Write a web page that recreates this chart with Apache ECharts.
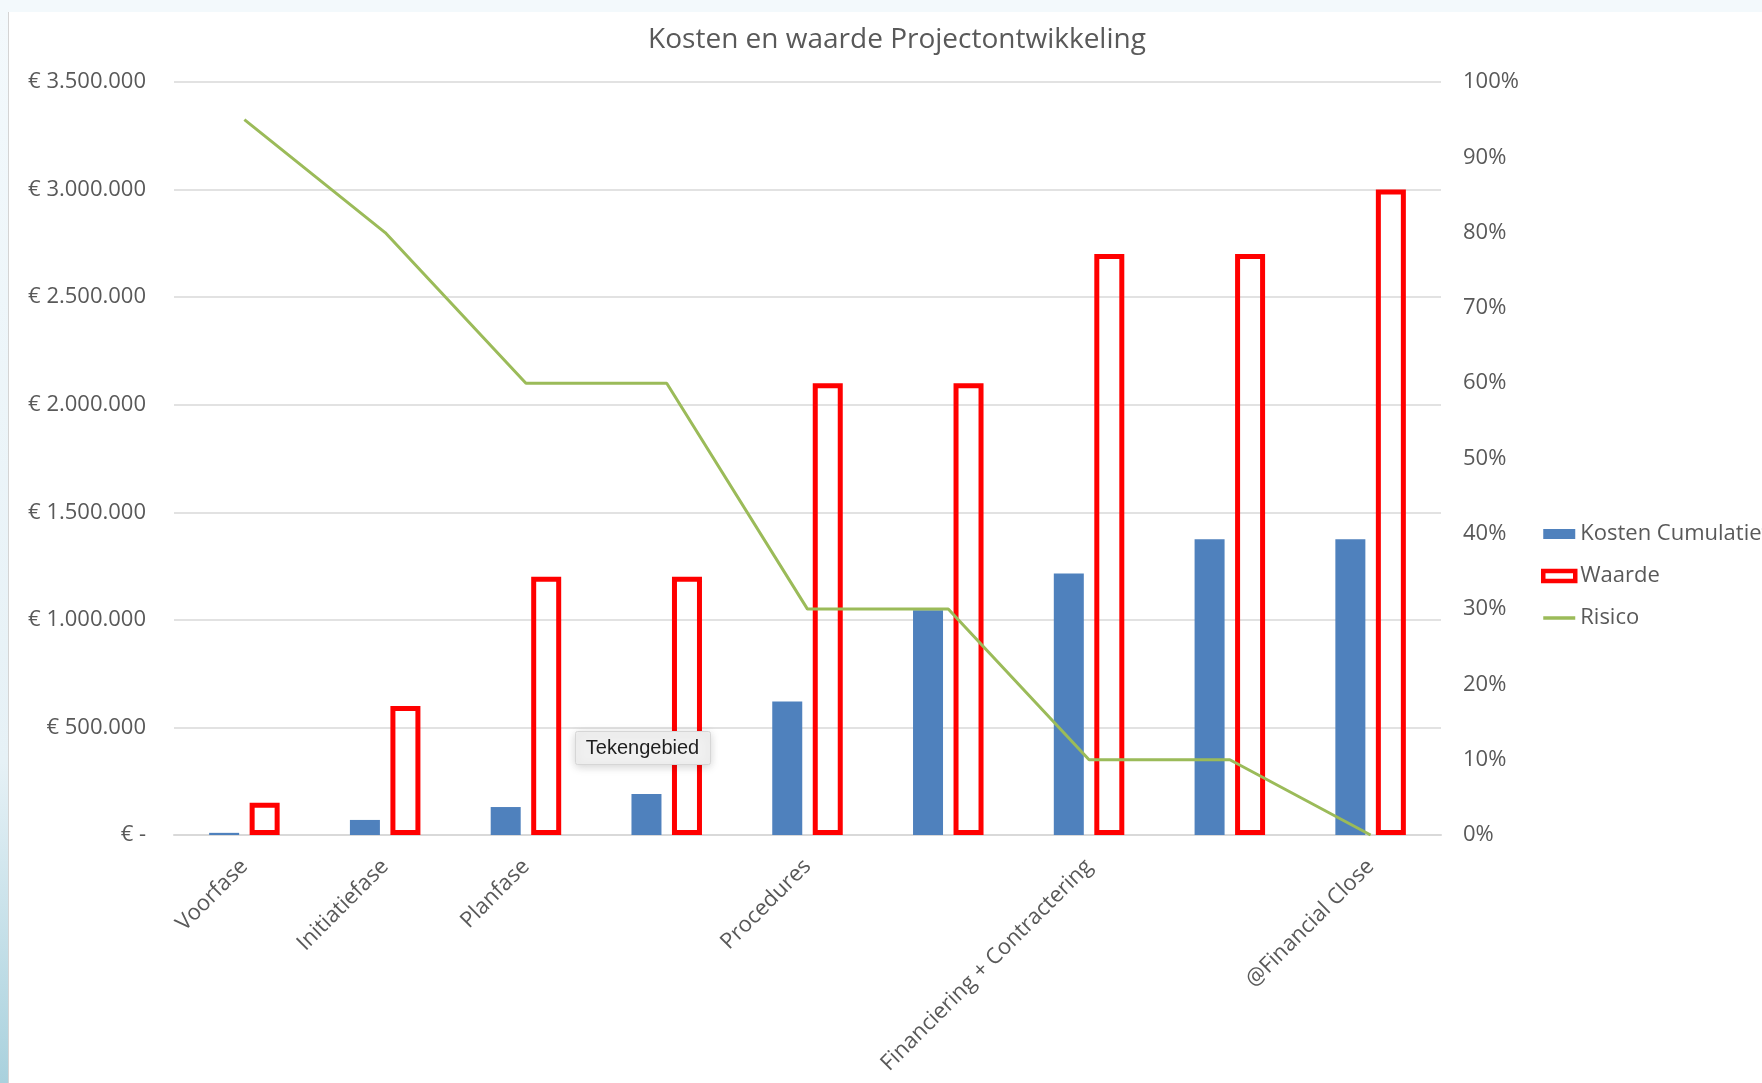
<!DOCTYPE html>
<html>
<head>
<meta charset="utf-8">
<title>Kosten en waarde Projectontwikkeling</title>
<script src="https://cdn.jsdelivr.net/npm/echarts@6/dist/echarts.min.js"></script>
<style>
    html, body { margin: 0; padding: 0; background: #ffffff; overflow: hidden; }
    #topStrip { position: absolute; left: 0; top: 0; width: 1762px; height: 12px; background: #f3f9fc; }
    #leftStrip { position: absolute; left: 0; top: 12px; width: 8px; height: 1071px;
        background: linear-gradient(to bottom, #f3f9fc 0%, #e6f1f6 70%, #a9d1dd 100%);
        border-right: 1px solid #d4d4d4; }
    #chart { position: absolute; left: 0; top: 0; width: 1762px; height: 1083px; }
</style>
</head>
<body>
<div id="topStrip"></div>
<div id="leftStrip"></div>
<div id="chart"></div>
<script>
// data
const categories = ['Voorfase', 'Initiatiefase', 'Planfase', '', 'Procedures', '', 'Financiering + Contractering', '', '@Financial Close'];
const kostenCumulatief = [10000, 70000, 130000, 190000, 620000, 1045000, 1215000, 1375000, 1375000];
const waarde = [150000, 600000, 1200000, 1200000, 2100000, 2100000, 2700000, 2700000, 3000000];
const risico = [0.95, 0.8, 0.6, 0.6, 0.3, 0.3, 0.1, 0.1, 0];

const labelColor = '#595959';
const fontFamily = '"Open Sans", "Noto Sans", sans-serif';

// € 3.500.000 style, zero as "€ -"
function formatEuro(value) {
    if (value === 0) return '€ -';
    return '€ ' + String(Math.round(value)).replace(/\B(?=(\d{3})+(?!\d))/g, '.');
}

function renderChart(containerId) {
    if (typeof echarts === 'undefined') {
        document.getElementById(containerId).innerHTML = '<div>ECharts niet geladen</div>';
        return;
    }
    const dom = document.getElementById(containerId);
    const chart = echarts.init(dom);

    const option = {
        animation: false,
        textStyle: { fontFamily: fontFamily },
        title: {
            text: 'Kosten en waarde Projectontwikkeling',
            left: 897,
            textAlign: 'center',
            top: 26,
            padding: 0,
            textStyle: { fontSize: 28, fontWeight: 'normal', color: labelColor, fontFamily: fontFamily }
        },
        legend: {
            orient: 'vertical',
            left: 1536,
            top: 518,
            itemWidth: 32,
            itemHeight: 10,
            itemGap: 20,
            textStyle: { fontSize: 22, color: labelColor, fontFamily: fontFamily },
            data: [
                { name: 'Kosten Cumulatief', icon: 'rect' },
                { name: 'Waarde', icon: 'rect', itemStyle: { borderWidth: 4.5, borderColor: '#ff0000', color: '#ffffff' } },
                { name: 'Risico', itemStyle: { opacity: 0 }, lineStyle: { width: 3.5 } }
            ]
        },
        grid: {
            left: 174,
            right: 321,
            top: 82,
            bottom: 248,
            outerBoundsMode: 'none'
        },
        xAxis: {
            type: 'category',
            data: categories,
            axisLine: { lineStyle: { color: '#d9d9d9', width: 2 } },
            axisTick: { show: false },
            axisLabel: {
                interval: 0,
                rotate: 45,
                margin: 28,
                fontSize: 22,
                color: labelColor,
                fontFamily: fontFamily
            }
        },
        yAxis: [
            {
                type: 'value',
                min: 0,
                max: 3500000,
                interval: 500000,
                axisLine: { show: false },
                axisTick: { show: false },
                splitLine: { lineStyle: { color: '#d9d9d9', width: 1.5 } },
                axisLabel: {
                    margin: 28,
                    fontSize: 22,
                    color: labelColor,
                    fontFamily: fontFamily,
                    formatter: formatEuro
                }
            },
            {
                type: 'value',
                min: 0,
                max: 1,
                interval: 0.1,
                axisLine: { show: false },
                axisTick: { show: false },
                splitLine: { show: false },
                axisLabel: {
                    margin: 22,
                    fontSize: 22,
                    color: labelColor,
                    fontFamily: fontFamily,
                    formatter: function (value) { return Math.round(value * 100) + '%'; }
                }
            }
        ],
        series: [
            {
                name: 'Kosten Cumulatief',
                type: 'bar',
                barWidth: 30,
                barGap: '35%',
                itemStyle: { color: '#4f81bd' },
                data: kostenCumulatief
            },
            {
                name: 'Waarde',
                type: 'bar',
                barWidth: 30,
                itemStyle: { color: 'rgba(255,255,255,0)', borderColor: '#ff0000', borderWidth: 5 },
                data: waarde
            },
            {
                name: 'Risico',
                type: 'line',
                yAxisIndex: 1,
                symbol: 'none',
                lineStyle: { color: '#9bbb59', width: 3 },
                itemStyle: { color: '#9bbb59' },
                data: risico
            }
        ],
        // hover label from the screenshot, drawn above the bars
        graphic: [
            {
                type: 'group',
                left: 575,
                top: 731,
                z: 100,
                children: [
                    {
                        type: 'rect',
                        z: 100,
                        shape: { x: 0, y: 0, width: 135, height: 33, r: 2 },
                        style: {
                            fill: '#f0f0f0', stroke: '#d6d6d6', lineWidth: 1,
                            shadowBlur: 10, shadowColor: 'rgba(0,0,0,0.18)', shadowOffsetY: 2
                        }
                    },
                    {
                        type: 'text',
                        z: 101,
                        x: 67,
                        y: 17,
                        style: {
                            text: 'Tekengebied',
                            fill: '#1f1f1f',
                            font: '20px "Liberation Sans", Arial, sans-serif',
                            align: 'center',
                            verticalAlign: 'middle'
                        }
                    }
                ]
            }
        ]
    };

    chart.setOption(option);
}

renderChart('chart');
</script>
</body>
</html>
